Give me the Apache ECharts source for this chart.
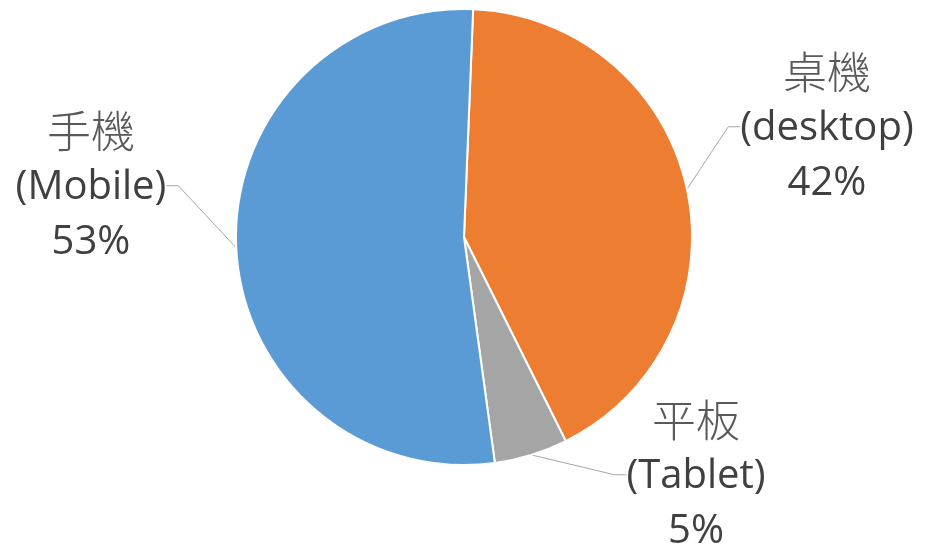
<!DOCTYPE html>
<html>
<head>
<meta charset="utf-8">
<script src="https://cdn.jsdelivr.net/npm/echarts@6/dist/echarts.min.js"></script>
<style>
  html, body { margin: 0; padding: 0; background: #fff; }
  #main { width: 925px; height: 547px; }
</style>
</head>
<body>
<div id="main"></div>
<script>
// 裝置類別與比例
var namesZh = ['桌機', '平板', '手機'];
var namesEn = ['desktop', 'Tablet', 'Mobile'];
var shares = [42, 5.2, 52.8];
var colors = ['#ED7D31', '#A5A5A5', '#5B9BD5'];

// label centres (Excel best fit)
var labelPos = [[827, 127], [696, 475], [91, 186]];

var pieData = [];
for (var i = 0; i < shares.length; i++) {
  pieData.push({
    name: namesZh[i],
    value: shares[i],
    itemStyle: { color: colors[i] }
  });
}

var myChart = echarts.init(document.getElementById('main'));
var option = {
  animation: false,
  series: [
    {
      type: 'pie',
      center: [464, 237],
      radius: 228,
      startAngle: 87.7,
      clockwise: true,
      percentPrecision: 0,
      data: pieData,
      itemStyle: {
        borderColor: '#fff',
        borderWidth: 2
      },
      label: {
        show: true,
        position: 'outside',
        formatter: function (p) {
          return '{zh|' + p.name + '}\n{en|(' + namesEn[p.dataIndex] + ')}\n{en|' + Math.round(p.percent) + '%}';
        },
        rich: {
          zh: {
            fontFamily: '"Noto Sans CJK TC"',
            fontSize: 44,
            fontWeight: 300,
            color: '#595959',
            lineHeight: 58
          },
          en: {
            fontFamily: '"Open Sans"',
            fontSize: 40,
            color: '#404040',
            lineHeight: 55
          }
        }
      },
      labelLine: {
        show: true,
        length: 20,
        length2: 12,
        lineStyle: { color: '#A6A6A6', width: 1 }
      },
      labelLayout: function (params) {
        var p = labelPos[params.dataIndex];
        return { x: p[0], y: p[1], align: 'center', verticalAlign: 'middle' };
      }
    }
  ]
};
myChart.setOption(option);
</script>
</body>
</html>
